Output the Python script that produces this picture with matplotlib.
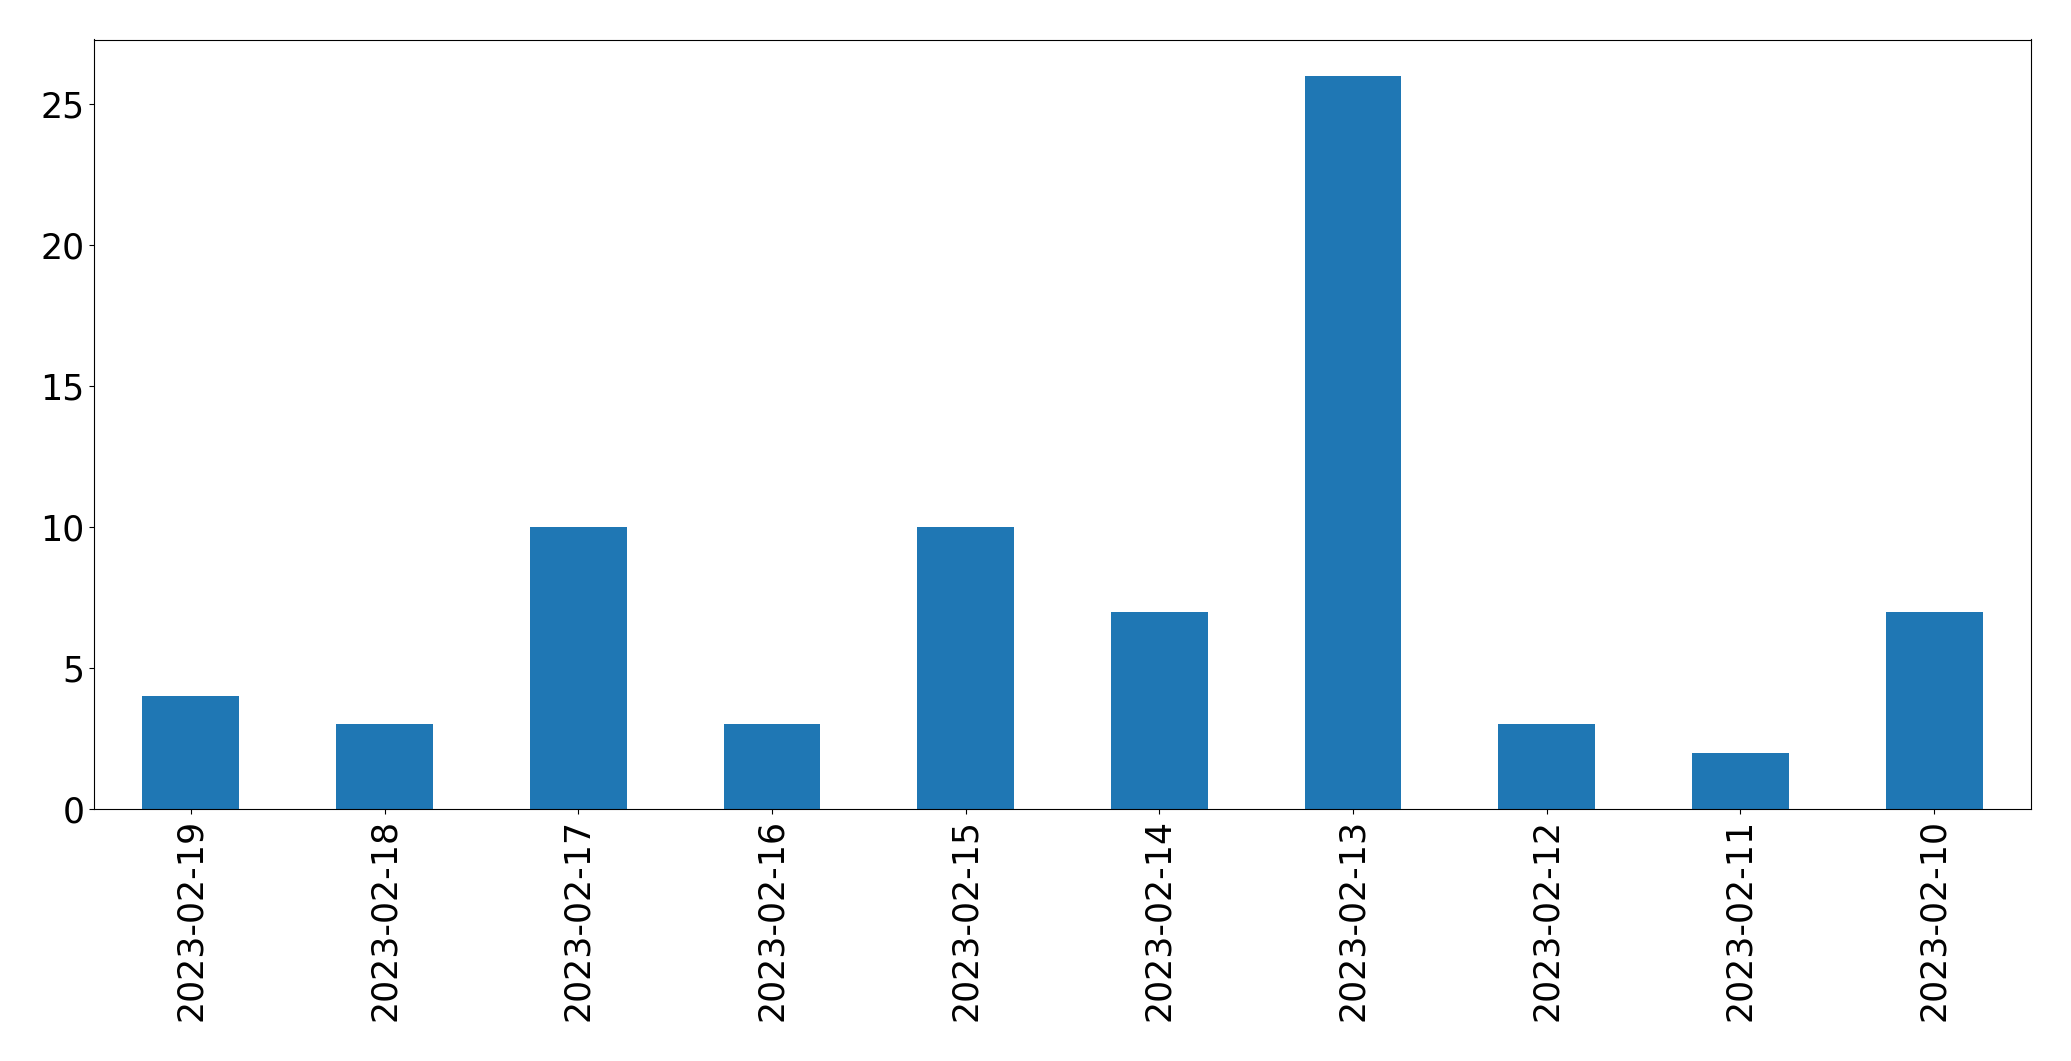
import matplotlib
matplotlib.use("Agg")
import matplotlib.pyplot as plt

dates = ["2023-02-19", "2023-02-18", "2023-02-17", "2023-02-16", "2023-02-15",
         "2023-02-14", "2023-02-13", "2023-02-12", "2023-02-11", "2023-02-10"]
counts = [4, 3, 10, 3, 10, 7, 26, 3, 2, 7]

fig = plt.figure(figsize=(20.71, 10.61), dpi=100)
ax = fig.add_axes([94/2071, 1 - 809/1061, (2031-94)/2071, (809-39.5)/1061])
x = list(range(len(dates)))
ax.bar(x, counts, width=0.5, color="#1f77b4")
ax.set_xlim(-0.5, len(dates) - 0.5)
ax.set_ylim(0, max(counts) * 1.05)
ax.set_xticks(x)
ax.set_xticklabels(dates, rotation=90)
ax.set_yticks([0, 5, 10, 15, 20, 25])
ax.tick_params(labelsize=25)
fig.savefig("out.png", dpi=100)
